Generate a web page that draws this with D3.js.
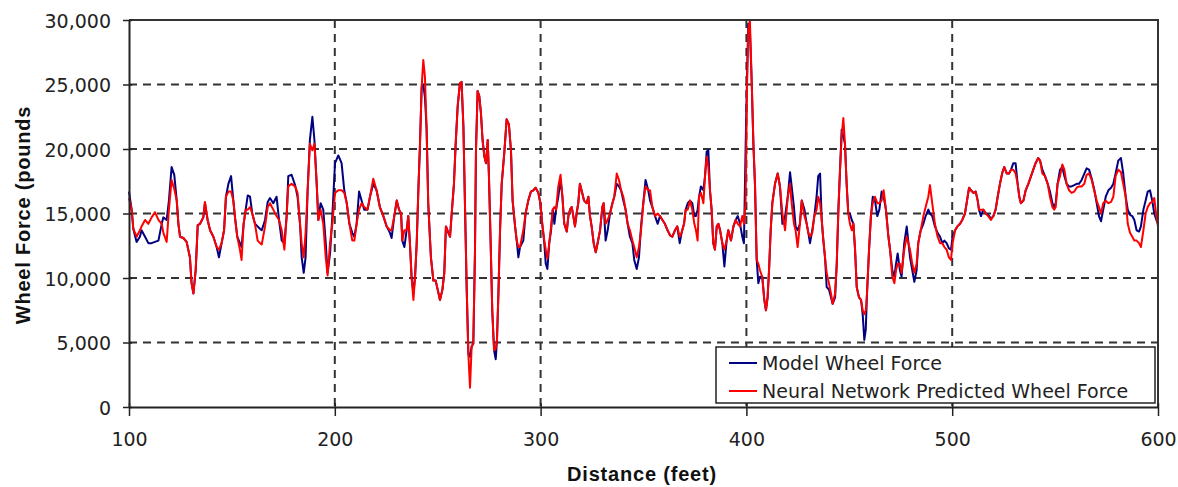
<!DOCTYPE html>
<html>
<head>
<meta charset="utf-8">
<script src="https://cdn.jsdelivr.net/npm/d3@7"></script>
<style>
  body { margin: 0; background: #fff; }
  svg { display: block; }
</style>
</head>
<body>
<div class="wheel-chart"></div>
<script>
// distance along the track (feet)
var distance = [
  100.0,101.3,102.1,103.7,105.3,106.1,107.8,109.4,111.0,112.6,114.3,115.9,116.7,118.3,119.4,120.7,122.0,123.2,124.0,124.8,
  126.4,128.0,129.6,130.4,131.3,132.4,133.4,134.5,136.1,136.9,138.2,139.4,141.0,142.6,143.7,145.0,146.2,147.1,148.3,149.6,
  150.7,151.5,152.6,153.9,154.7,155.7,156.7,157.7,158.8,159.9,161.2,162.5,163.7,
  164.5,166.1,167.4,168.5,170.1,171.7,172.9,174.2,175.5,176.6,177.4,179.0,180.7,181.9,183.1,183.9,184.9,185.8,186.8,187.9,
  189.1,190.1,191.2,192.0,193.1,194.4,195.6,196.5,197.7,198.8,200.1,201.7,203.3,204.6,205.8,207.1,208.5,209.5,210.6,211.8,
  213.0,214.3,215.9,217.1,218.7,220.3,221.9,223.6,225.2,226.8,
  227.6,228.9,230.1,231.2,232.2,232.8,233.8,234.9,235.7,236.5,237.3,238.2,239.0,239.8,240.6,241.4,242.2,243.0,243.8,244.6,
  245.4,246.7,247.9,249.0,250.0,251.1,252.3,253.2,254.0,255.2,256.0,256.8,257.9,258.7,259.7,260.8,261.6,262.5,263.3,264.1,
  264.9,265.7,266.5,267.3,268.1,268.6,269.4,270.2,271.0,271.8,272.7,273.5,274.3,274.9,275.7,276.5,277.4,278.2,278.8,279.5,
  280.3,281.1,282.4,283.5,284.6,285.6,286.4,287.6,288.4,289.2,290.0,
  291.6,292.7,294.0,295.3,296.5,297.6,298.9,299.9,300.8,301.8,302.5,303.3,304.2,305.1,305.9,306.7,307.5,308.6,309.7,310.6,
  311.5,312.7,313.5,314.3,315.1,315.9,316.7,317.5,318.3,319.1,319.9,321.1,322.4,323.2,324.0,324.8,325.8,326.8,327.7,328.9,
  330.0,330.6,331.6,332.6,333.7,334.9,335.8,337.0,338.1,339.1,340.2,341.3,342.3,343.4,344.6,345.5,346.7,347.8,348.8,349.9,
  351.0,352.3,353.2,
  354.3,355.6,356.9,358.0,359.2,360.4,361.7,362.9,364.0,365.3,366.4,367.6,368.5,369.7,370.5,371.5,372.6,373.7,374.7,375.5,
  376.3,377.0,377.9,379.1,379.9,380.7,381.5,382.3,383.1,383.9,384.7,385.6,386.4,387.2,388.3,389.3,390.4,391.2,392.5,393.7,
  394.8,395.8,396.9,398.0,398.8,399.6,400.3,400.9,401.7,402.6,403.4,404.2,405.0,405.8,406.6,407.7,408.7,409.5,410.3,411.0,
  411.8,412.6,413.9,415.2,416.3,
  417.5,418.8,420.1,421.2,422.0,423.1,423.9,424.9,426.0,426.9,428.2,429.3,430.1,430.9,432.0,433.0,434.1,434.9,435.8,436.6,
  437.4,438.2,439.0,440.1,441.1,441.9,443.1,443.9,444.7,445.5,446.3,447.1,447.9,448.7,449.5,450.3,451.2,452.0,452.8,453.6,
  454.7,455.7,456.5,457.3,458.0,458.6,459.6,460.5,461.4,462.5,463.6,464.6,465.7,466.7,467.8,469.0,469.8,470.9,471.9,472.7,
  473.5,474.6,475.4,476.7,477.9,
  479.5,480.6,481.6,482.7,483.5,484.7,486.0,487.1,488.4,489.2,490.3,491.6,492.9,494.1,495.2,496.2,497.3,498.4,499.4,500.2,
  501.4,502.5,503.8,504.9,506.2,507.2,508.2,509.1,510.3,511.4,512.4,513.0,514.0,515.1,516.3,517.5,518.8,520.0,521.1,522.1,
  523.2,524.4,525.3,526.5,527.6,528.6,529.7,530.8,531.8,532.6,533.4,534.6,535.7,537.0,538.3,539.4,540.5,541.8,542.7,
  543.8,545.1,546.4,547.5,548.7,549.6,550.3,551.2,552.4,553.5,554.5,555.6,556.8,558.0,559.3,560.5,561.6,562.9,564.2,565.3,
  566.5,567.8,569.1,570.2,571.3,572.3,573.4,574.6,575.9,577.2,578.3,579.4,580.7,582.0,583.1,584.3,585.3,586.4,587.5,588.5,
  589.6,590.8,591.7,592.9,594.0,595.0,596.1,597.2,598.2,599.2,600.0
];

// model wheel force (pounds)
var modelForce = [
  16700,15300,13800,12800,13200,13700,13200,12700,12700,12800,12900,14200,14700,14500,16000,18600,18000,16000,14200,13200,
  13100,12800,11600,9600,8800,10600,14100,14200,14700,15800,14500,13700,13200,12400,11600,12700,13700,16300,17300,17900,
  16000,14700,13200,12700,12400,14200,15300,16400,16300,15000,14200,14000,13800,
  13700,14500,15900,16200,15800,16300,14500,12900,12700,14800,17900,18000,17200,16300,14200,11600,10400,11600,16800,20700,
  22500,20700,17300,14500,15800,15300,12700,10400,11900,14800,18900,19500,18900,16800,15800,14200,13500,13200,14200,16700,
  16000,15300,15300,16300,17300,16800,15500,14800,14000,13500,
  13100,14800,16000,15300,15000,12900,12400,13700,14800,12700,10100,8800,10100,12700,16800,20400,24800,25000,24000,21600,
  15800,11600,9800,9800,9100,8300,9100,10400,14000,13500,13200,15000,17300,20300,23300,25100,25200,21700,15300,9100,
  4100,3900,4700,4900,11900,19900,24500,24100,22800,20700,19400,18900,20700,17900,12900,7500,4400,3700,5200,8800,
  13700,17300,19800,22300,21900,19900,16000,14000,12900,11600,12400,
  12900,15000,16000,16700,16800,17000,16600,15800,14200,12700,11100,10700,12700,13700,15300,14200,15300,16300,17600,16300,
  14200,13600,14800,15300,15500,14800,14000,15000,15800,17300,16800,16000,15800,16300,14800,14000,12700,12000,12700,13700,
  15500,15800,12900,13700,15000,15800,16300,17300,17100,16800,16000,15300,14200,13200,12700,11400,10700,11600,14000,15800,
  17600,16800,16000,
  15500,14800,14200,14800,14500,14200,13700,13300,13200,13700,14000,12700,13500,14200,15300,15800,16000,15800,14800,14800,
  15300,16300,17100,16800,17900,19800,19900,16800,15300,12700,12200,14000,14200,13700,12700,10900,12900,13700,12900,14000,
  14500,14800,14200,13200,12700,19900,25600,29700,29200,25100,20400,17100,11400,9600,10100,10100,8300,7500,8500,10600,
  13700,15800,17300,18100,17100,
  14200,14800,16300,18200,17100,15500,14000,13700,14200,16000,15300,14200,13500,12700,13700,14800,16300,17900,18100,14500,
  12900,11600,9300,9100,8500,8000,8500,11100,15300,18400,21500,21000,20400,17300,15000,15000,14500,14200,12200,9300,
  8500,8300,7200,5200,6000,8800,12200,14800,16300,16000,14800,15300,16700,16300,15300,13200,12200,10600,10100,11100,
  11900,10600,10100,12700,14000,
  11600,10600,9700,10600,12700,13700,14200,14800,15300,15000,14800,14000,13500,13200,12700,12900,12700,12300,12200,13200,
  13700,14000,14200,14500,15000,16000,17000,16800,16600,16700,16000,15300,14800,15300,15000,14900,14600,14800,15300,16300,
  17300,18200,18600,18100,18100,18400,18900,18900,17300,16300,15800,16000,16800,17300,17900,18400,18900,19300,19100,
  18400,17900,17300,16700,15800,15500,15800,17300,18400,18600,17900,17300,17100,17100,17200,17300,17300,17600,18100,18500,
  18400,17700,16800,15800,14800,14400,15300,16300,16800,17000,17300,18100,19100,19300,18100,16300,15300,14900,14800,14500,
  13700,13600,14000,15300,16000,16700,16800,16000,15000,14500,14200
];

// neural network predicted wheel force (pounds)
var predictedForce = [
  16200,15300,13800,13200,13700,14000,14500,14200,14700,15100,14500,14200,13500,12800,15300,17600,16900,16000,14200,13200,
  13100,12800,11600,9600,8800,10600,14100,14200,14700,15900,14500,13700,13200,12400,12200,12700,13700,16300,16700,16700,
  16000,14700,13200,12200,11400,14200,15300,15300,15500,15000,14200,12900,12700,
  12600,14000,15500,15800,15300,14800,14500,13700,12200,14800,17100,17300,17100,16600,14200,12700,11600,13500,16800,20400,
  19900,20400,17300,14500,15300,14200,11600,10200,12700,14200,16600,16800,16800,16600,15800,14200,12900,12900,14200,15300,
  15800,15500,15300,16300,17700,16800,15500,14800,14000,13700,
  13700,14800,16000,15300,15000,12900,13700,13700,14800,12700,10100,8300,10100,12700,16800,20400,24800,26900,25600,21600,
  15800,11600,9800,9800,9100,8300,9100,10400,14000,13500,13200,15000,17300,20300,23300,25100,25200,21700,15300,9100,
  4100,1500,4700,4900,11900,19900,24500,24100,22800,20700,19400,18900,20700,17900,12900,7500,4400,4500,5200,8800,
  13700,17300,19800,22300,21900,19900,16000,14000,12900,12400,12400,
  13700,15000,16000,16700,16800,17000,16600,15800,14200,12900,12200,11500,12700,14000,15300,15500,15300,17100,18000,16300,
  14200,13600,14800,15300,15500,14800,14000,15000,15800,17300,16800,16000,15800,16300,14800,14000,12700,12000,12700,13700,
  15500,15800,14200,14500,15000,15800,16300,18100,17600,16800,16300,15300,14200,13700,12900,12400,11600,12400,13700,15800,
  17100,16800,16800,
  15500,14800,15000,14800,14500,14200,13700,13300,13200,13700,14000,13200,13500,14200,15300,15300,16000,15300,14200,13700,
  12900,16300,16600,15800,17900,19400,18600,16800,15300,12700,12200,14000,14200,13700,12700,12200,12900,13700,12900,14000,
  14500,14200,14000,14800,14200,15800,24800,29200,30000,25100,20400,17100,11400,11100,10600,10100,8300,7500,8500,10600,
  13700,15800,17300,18100,17100,
  15000,13700,16300,17300,15800,14200,13700,12400,14200,16000,14800,14200,13500,13200,13500,14800,15300,16300,15800,14500,
  12900,11600,10400,9600,8800,8000,8800,11100,15300,18400,21000,22400,20400,17300,15000,14200,13700,14200,12200,9300,
  8500,8300,7500,7200,7500,8800,12200,14800,15800,16300,15800,15800,16000,16800,15300,13200,12200,10100,9600,10600,
  11100,11100,10400,12200,13200,
  12200,11100,10400,11100,12700,13700,14800,15500,16300,17200,15800,14200,13200,12700,12700,12400,12200,11600,11400,12700,
  13700,14000,14200,14500,15000,16000,17000,16800,16600,16700,16000,15300,15300,15300,15000,14800,14500,14800,15300,16300,
  17300,18200,18600,18100,18100,18400,18400,18100,17300,16300,15800,16000,16800,17300,17900,18400,18900,19300,19100,
  18100,17900,17300,16300,15500,15300,15500,17300,17900,18800,18400,17300,16800,16600,16700,17000,17100,17100,17300,18000,
  18100,17600,16700,16000,15500,15000,15800,16000,15800,15900,16300,17900,18400,18200,17300,16300,14200,13500,13200,12900,
  12900,12700,12400,13700,15000,15500,15800,15900,16200,14800,14000
];

var xTicks = [100, 200, 300, 400, 500, 600];
var yTicks = [0, 5000, 10000, 15000, 20000, 25000, 30000];
var seriesNames = ["Model Wheel Force", "Neural Network Predicted Wheel Force"];
var seriesColors = ["#000080", "#ff0000"];
var xTitle = "Distance (feet)";
var yTitle = "Wheel Force (pounds";

var W = 1178, H = 487;
var plotLeft = 129, plotRight = 1158, plotTop = 20, plotBottom = 407;
var tickFont = "'DejaVu Sans', sans-serif";
var titleFont = "'Liberation Sans', Arial, sans-serif";

var x_scale = d3.scaleLinear().domain([100, 600]).range([plotLeft, plotRight]);
var y_scale = d3.scaleLinear().domain([0, 30000]).range([plotBottom, plotTop]);

var svg = d3.select(".wheel-chart").append("svg")
    .attr("width", W)
    .attr("height", H);

// dashed grid
var grid = svg.append("g").attr("stroke", "#333").attr("stroke-width", 2)
    .attr("stroke-dasharray", "8,6");

grid.selectAll("line.h")
    .data(yTicks.filter(function(v) { return v > 0 && v < 30000; }))
    .enter().append("line")
    .attr("class", "h")
    .attr("x1", plotLeft).attr("x2", plotRight)
    .attr("y1", function(d) { return y_scale(d); })
    .attr("y2", function(d) { return y_scale(d); });

grid.selectAll("line.v")
    .data(xTicks.filter(function(v) { return v > 100 && v < 600; }))
    .enter().append("line")
    .attr("class", "v")
    .attr("y1", plotTop).attr("y2", plotBottom)
    .attr("x1", function(d) { return x_scale(d); })
    .attr("x2", function(d) { return x_scale(d); });

// series
var n = Math.min(distance.length, modelForce.length, predictedForce.length);
var line = d3.line()
    .x(function(d) { return x_scale(d.x); })
    .y(function(d) { return y_scale(d.y); });

[modelForce, predictedForce].forEach(function(vals, k) {
    var data_xy = [];
    for (let i = 0; i < n; i++) {
        data_xy.push({x: distance[i], y: vals[i]});
    }
    svg.append("path")
        .attr("d", line(data_xy))
        .attr("fill", "none")
        .attr("stroke", seriesColors[k])
        .attr("stroke-width", 2)
        .attr("stroke-linejoin", "round");
});

// plot frame (top and right)
svg.append("path")
    .attr("d", "M" + plotLeft + "," + plotTop + "H" + plotRight + "V" + plotBottom)
    .attr("fill", "none")
    .attr("stroke", "#333")
    .attr("stroke-width", 2);

// axes
var yAxis = svg.append("g")
    .attr("transform", "translate(" + plotLeft + ",0)")
    .call(d3.axisLeft(y_scale).tickValues(yTicks).tickFormat(d3.format(","))
        .tickSizeInner(6).tickSizeOuter(0).tickPadding(12));

var xAxis = svg.append("g")
    .attr("transform", "translate(0," + plotBottom + ")")
    .call(d3.axisBottom(x_scale).tickValues(xTicks).tickFormat(d3.format("d"))
        .tickSizeInner(9).tickSizeOuter(0));

[yAxis, xAxis].forEach(function(ax) {
    ax.attr("font-family", tickFont).attr("font-size", 19);
    ax.select(".domain").attr("stroke", "#222").attr("stroke-width", 2);
    ax.selectAll(".tick line").attr("stroke", "#222").attr("stroke-width", 1.5);
    ax.selectAll(".tick text").attr("fill", "#222");
});
yAxis.selectAll(".tick line").attr("x1", 3);
yAxis.selectAll(".tick text").attr("x", -18).attr("dy", "0.37em");
xAxis.selectAll(".tick line").attr("y1", -4);
xAxis.selectAll(".tick text").attr("y", 26).attr("dy", "0.71em");

// axis titles
svg.append("text")
    .attr("x", 642).attr("y", 481)
    .attr("text-anchor", "middle")
    .attr("font-family", titleFont).attr("font-weight", "bold")
    .attr("font-size", 20).attr("letter-spacing", 0.8)
    .attr("fill", "#111")
    .text(xTitle);

svg.append("text")
    .attr("transform", "translate(30,215) rotate(-90)")
    .attr("text-anchor", "middle")
    .attr("font-family", titleFont).attr("font-weight", "bold")
    .attr("font-size", 20).attr("letter-spacing", 0.8)
    .attr("fill", "#111")
    .text(yTitle);

// legend
var legend = svg.append("g");
legend.append("rect")
    .attr("x", 716).attr("y", 347)
    .attr("width", 439).attr("height", 56)
    .attr("fill", "#fff")
    .attr("stroke", "#222").attr("stroke-width", 1.5);

seriesNames.forEach(function(name, k) {
    var ly = 363 + k * 28;
    legend.append("line")
        .attr("x1", 729).attr("x2", 757)
        .attr("y1", ly).attr("y2", ly)
        .attr("stroke", seriesColors[k]).attr("stroke-width", 2);
    legend.append("text")
        .attr("x", 762).attr("y", ly + 7)
        .attr("font-family", tickFont).attr("font-size", 19)
        .attr("fill", "#222")
        .text(name);
});
</script>
</body>
</html>
